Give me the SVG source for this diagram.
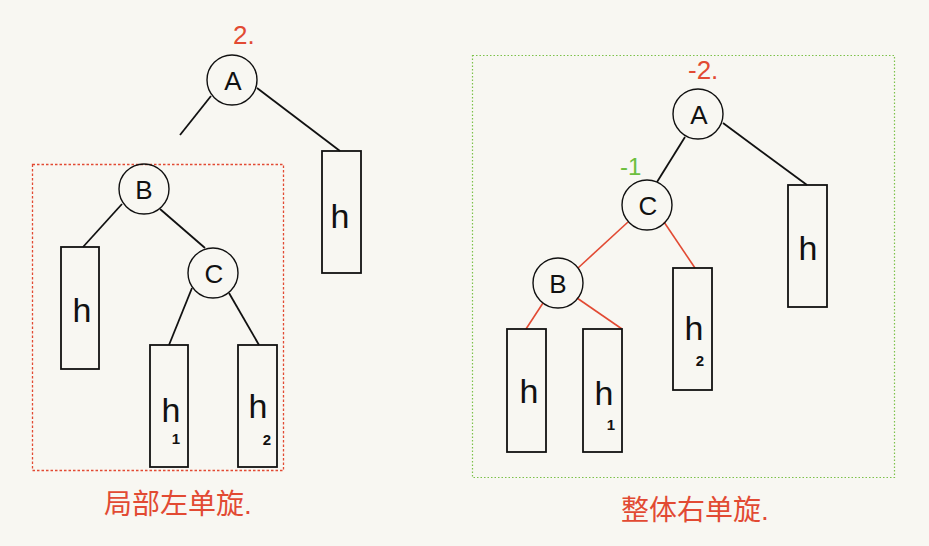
<svg xmlns="http://www.w3.org/2000/svg" width="929" height="546" viewBox="0 0 929 546">
<style>
.bg{fill:#f8f7f2}
.node circle{fill:none;stroke:#111;stroke-width:1.4}
.node rect{fill:none;stroke:#111;stroke-width:1.8}
.lbl{font-family:"Liberation Sans",Arial,sans-serif;font-size:26px;fill:#111;text-anchor:middle}
.hl{font-family:"Liberation Sans",Arial,sans-serif;font-size:34px;fill:#111;text-anchor:middle}
.sub{font-family:"Liberation Sans",Arial,sans-serif;font-size:15px;font-weight:bold;fill:#111;text-anchor:middle}
.edge line{stroke:#111;stroke-width:1.8}
.edge line.red{stroke:#e24a33;stroke-width:1.6}
.note{font-family:"Liberation Sans","Noto Sans CJK SC",sans-serif;fill:#e24a33}
</style>
<rect class="bg" x="0" y="0" width="929" height="546"/>

<!-- frames -->
<rect x="32.5" y="164.5" width="251" height="306" fill="none" stroke="#e24a33" stroke-width="1.3" stroke-dasharray="2.5,2"/>
<rect x="472.5" y="55.5" width="422" height="422" fill="none" stroke="#7cc24a" stroke-width="1.2" stroke-dasharray="1.5,2"/>

<!-- connectors -->
<g id="connectors" class="edge">
  <line x1="211" y1="96" x2="180" y2="135"/>
  <line x1="257" y1="88" x2="340" y2="151"/>
  <line x1="122" y1="204" x2="83" y2="247"/>
  <line x1="160" y1="209" x2="205" y2="248"/>
  <line x1="192" y1="288" x2="169" y2="345"/>
  <line x1="229" y1="293" x2="259" y2="345"/>
  <line x1="685" y1="137" x2="657" y2="182"/>
  <line x1="723" y1="123" x2="807" y2="185"/>
  <line class="red" x1="628" y1="222" x2="578" y2="268"/>
  <line class="red" x1="664" y1="222" x2="695" y2="268"/>
  <line class="red" x1="543" y1="303" x2="526" y2="329"/>
  <line class="red" x1="577" y1="298" x2="622" y2="329"/>
</g>

<!-- left tree -->
<g id="L_A" class="node"><circle cx="232" cy="80" r="25"/><text class="lbl" x="233" y="90">A</text></g>
<g id="L_h_right" class="node"><rect x="322" y="151" width="39" height="122"/><text class="hl" x="340" y="228">h</text></g>
<g id="L_B" class="node"><circle cx="144" cy="189" r="25"/><text class="lbl" x="144" y="199">B</text></g>
<g id="L_h" class="node"><rect x="61" y="247" width="38" height="122"/><text class="hl" x="82" y="322">h</text></g>
<g id="L_C" class="node"><circle cx="213" cy="273" r="25"/><text class="lbl" x="214" y="283">C</text></g>
<g id="L_h1" class="node"><rect x="150" y="345" width="38" height="122"/><text class="hl" x="171" y="422">h</text><text class="sub" x="176" y="444">1</text></g>
<g id="L_h2" class="node"><rect x="238" y="345" width="39" height="122"/><text class="hl" x="258" y="418">h</text><text class="sub" x="267" y="445">2</text></g>

<!-- right tree -->
<g id="R_A" class="node"><circle cx="698" cy="114" r="25"/><text class="lbl" x="699" y="124">A</text></g>
<g id="R_h_right" class="node"><rect x="788" y="185" width="39" height="122"/><text class="hl" x="808" y="260">h</text></g>
<g id="R_C" class="node"><circle cx="647" cy="205" r="25"/><text class="lbl" x="648" y="215">C</text></g>
<g id="R_B" class="node"><circle cx="558" cy="283" r="25"/><text class="lbl" x="558" y="293">B</text></g>
<g id="R_h2" class="node"><rect x="673" y="268" width="39" height="122"/><text class="hl" x="694" y="340">h</text><text class="sub" x="700" y="366">2</text></g>
<g id="R_h" class="node"><rect x="507" y="329" width="39" height="123"/><text class="hl" x="529" y="403">h</text></g>
<g id="R_h1" class="node"><rect x="583" y="329" width="39" height="123"/><text class="hl" x="604" y="405">h</text><text class="sub" x="611" y="430">1</text></g>

<!-- annotations -->
<text class="note" x="233" y="44" font-size="26">2.</text>
<text class="note" x="688" y="79" font-size="26">-2.</text>
<text x="620" y="175" font-family="Liberation Sans,sans-serif" font-size="24" fill="#6cbf3e">-1</text>
<text class="note" x="104" y="514" font-size="28">局部左单旋.</text>
<text class="note" x="621" y="520" font-size="28">整体右单旋.</text>
</svg>
